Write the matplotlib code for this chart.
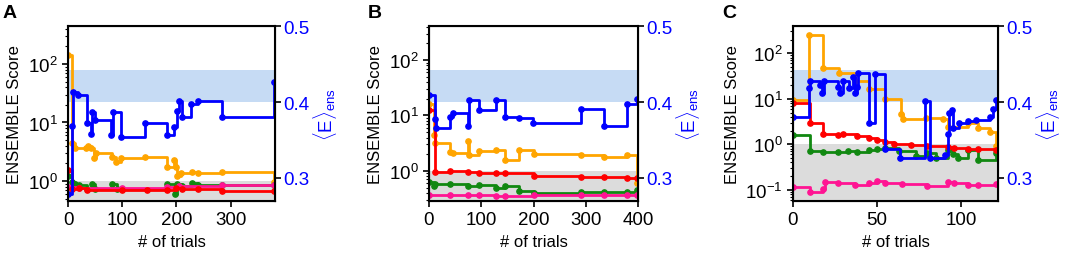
import matplotlib
matplotlib.use("Agg")
import matplotlib.pyplot as plt
import matplotlib.transforms as mtransforms
from matplotlib.patches import Rectangle
from matplotlib.ticker import LogLocator, NullFormatter

plt.rcParams['font.family'] = ['Liberation Sans', 'DejaVu Sans']
plt.rcParams['mathtext.fontset'] = 'custom'
plt.rcParams['mathtext.rm'] = 'Liberation Sans'
plt.rcParams['mathtext.it'] = 'Liberation Sans:italic'
plt.rcParams['font.size'] = 11.5

# ---- panel A ----
a_blue_x = [0, 7.4, 9.9, 18.5, 35.8, 42, 44.4, 49.4, 80.2, 82.7, 97.5, 143, 183, 196, 200.6, 205, 211, 226.5, 239, 285, 381]
a_blue_y = [0.279, 0.369, 0.413, 0.409, 0.373, 0.358, 0.387, 0.377, 0.356, 0.387, 0.354, 0.372, 0.356, 0.367, 0.388, 0.401, 0.380, 0.398, 0.401, 0.380, 0.426]
a_orange_x = [0, 7.4, 12, 33, 37, 43, 47.5, 51, 82, 88, 98, 143, 183, 196, 199, 202, 208, 228, 239, 285, 381]
a_orange_y = [140, 4.5, 3.6, 3.7, 4.0, 3.6, 2.5, 3.0, 2.6, 2.1, 2.5, 2.55, 1.75, 2.3, 1.75, 1.2, 1.35, 1.45, 1.38, 1.45, 0.95]
a_red_x = [0, 8, 20, 35, 100, 145, 183, 200, 210, 240, 285, 381]
a_red_y = [1.55, 0.72, 0.75, 0.70, 0.70, 0.70, 0.70, 0.75, 0.74, 0.72, 0.68, 0.68]
a_green_x = [0, 8, 12, 20, 35, 45, 50, 82, 90, 183, 198, 202, 210, 228, 239, 285, 381]
a_green_y = [1.2, 0.95, 0.88, 0.85, 0.72, 0.90, 0.72, 0.88, 0.72, 0.88, 0.60, 0.90, 0.82, 0.92, 0.85, 0.85, 0.85]
a_pink_x = [0, 20, 100, 183, 205, 285, 381]
a_pink_y = [0.78, 0.75, 0.76, 0.78, 0.82, 0.84, 0.84]

# ---- panel B ----
b_blue_x = [0, 12, 14, 41, 46, 74, 76, 95, 128, 145, 172, 200, 290, 335, 379, 398]
b_blue_y = [0.409, 0.378, 0.366, 0.381, 0.386, 0.368, 0.403, 0.389, 0.403, 0.381, 0.379, 0.373, 0.391, 0.368, 0.397, 0.404]
b_orange_x = [0, 10, 12, 41, 46, 74, 76, 95, 128, 145, 172, 200, 290, 335, 379, 398]
b_orange_y = [16, 4.5, 3.2, 2.2, 2.1, 3.4, 1.95, 2.3, 2.35, 1.6, 2.4, 2.0, 1.9, 1.8, 1.95, 0.6]
b_red_x = [0, 11, 41, 74, 95, 128, 145, 200, 290, 335, 379, 398]
b_red_y = [12.5, 0.97, 1.0, 0.96, 0.92, 0.9, 0.92, 0.8, 0.78, 0.78, 0.75, 0.75]
b_green_x = [0, 10, 12, 41, 74, 95, 128, 145, 172, 200, 290, 335, 379, 398]
b_green_y = [0.63, 0.53, 0.58, 0.58, 0.54, 0.55, 0.5, 0.53, 0.43, 0.4, 0.42, 0.41, 0.41, 0.46]
b_pink_x = [0, 41, 74, 95, 128, 145, 200, 290, 335, 379, 398]
b_pink_y = [0.36, 0.37, 0.37, 0.36, 0.35, 0.355, 0.36, 0.37, 0.37, 0.37, 0.37]

# ---- panel C ----
c_blue_x = [0, 9.7, 10.3, 16, 17.5, 18.5, 27, 28, 30, 33.5, 35.5, 37, 37.8, 38.5, 45.5, 48.8, 55, 63.5, 78.6, 81.5, 90.5, 92, 93, 94.5, 95.5, 99, 104, 109, 117, 119, 121]
c_blue_y = [0.380, 0.418, 0.428, 0.422, 0.412, 0.428, 0.420, 0.412, 0.428, 0.418, 0.433, 0.412, 0.420, 0.438, 0.372, 0.437, 0.338, 0.326, 0.402, 0.326, 0.33, 0.358, 0.385, 0.39, 0.366, 0.372, 0.375, 0.377, 0.381, 0.391, 0.403]
c_orange_x = [0, 9.5, 18, 27.5, 37, 45, 55, 64, 65.5, 79, 89.5, 92.5, 104, 110, 117, 121]
c_orange_y = [9.5, 250, 48, 36, 24, 16, 10, 4.6, 3.6, 3.8, 3.6, 2.4, 2.9, 2.3, 1.9, 0.9]
c_red_x = [0, 10, 18, 27, 30, 38, 45, 50, 55, 60, 70, 80, 92, 96, 104, 110, 121]
c_red_y = [8, 2.9, 1.7, 1.6, 1.7, 1.55, 1.4, 1.25, 1.1, 1.0, 0.95, 0.93, 0.87, 0.85, 0.8, 0.8, 0.75]
c_green_x = [0, 10, 18, 27, 33, 38, 45, 50, 55, 63, 73, 80, 85, 92, 95, 98, 104, 110, 121]
c_green_y = [1.6, 0.72, 0.68, 0.68, 0.72, 0.68, 0.75, 0.8, 0.82, 0.72, 0.55, 0.65, 0.5, 0.75, 0.6, 0.5, 0.75, 0.45, 0.65]
c_pink_x = [0, 10, 18, 19, 27, 37, 45, 50, 55, 65, 80, 92, 96, 104, 110, 121]
c_pink_y = [0.115, 0.09, 0.105, 0.15, 0.14, 0.13, 0.14, 0.155, 0.14, 0.135, 0.125, 0.15, 0.14, 0.13, 0.13, 0.135]

panel_labels = ['A', 'B', 'C']
x_limits = [(0, 382), (0, 400), (0, 122)]
x_ticks = [[0, 100, 200, 300], [0, 100, 200, 300, 400], [0, 50, 100]]
score_limits = [(0.46, 440), (0.29, 405), (0.058, 390)]
e_limits = (0.27, 0.5)
e_ticks = [0.3, 0.4, 0.5]
e_band = (0.40, 0.442)

ORANGE = '#FFA500'
RED = '#FF0000'
GREEN = '#118811'
PINK = '#FF1493'
BLUE = '#0000FF'

panels = [
    (a_orange_x, a_orange_y, a_red_x, a_red_y, a_green_x, a_green_y, a_pink_x, a_pink_y, a_blue_x, a_blue_y),
    (b_orange_x, b_orange_y, b_red_x, b_red_y, b_green_x, b_green_y, b_pink_x, b_pink_y, b_blue_x, b_blue_y),
    (c_orange_x, c_orange_y, c_red_x, c_red_y, c_green_x, c_green_y, c_pink_x, c_pink_y, c_blue_x, c_blue_y),
]
lefts = [68 / 1065, 429 / 1065, 793 / 1065]
widths = [207 / 1065, 209 / 1065, 205 / 1065]
letter_x = [3 / 1065, 368 / 1065, 722 / 1065]

fig = plt.figure(figsize=(10.65, 2.55), dpi=100)

for i, p in enumerate(panels):
    ox, oy, rx, ry, gx, gy, px, py, bx, by = p
    ax = fig.add_axes([lefts[i], 53.3 / 255, widths[i], 174.4 / 255])
    ax2 = ax.twinx()
    ax.set_yscale('log')
    ax.set_xlim(*x_limits[i])
    ax.set_ylim(*score_limits[i])
    ax2.set_ylim(*e_limits)

    # shaded bands
    ax.axhspan(1e-4, 1.0, color='#dcdcdc', zorder=0, lw=0)
    trans = mtransforms.blended_transform_factory(ax.transAxes, ax2.transData)
    ax.add_patch(Rectangle((0, e_band[0]), 1, e_band[1] - e_band[0], transform=trans,
                           color='#c6dbf4', zorder=0, lw=0))

    kw = dict(drawstyle='steps-post', marker='o', ms=3.8, lw=2.0)
    ax.plot(ox, oy, color=ORANGE, **kw)
    ax.plot(gx, gy, color=GREEN, **kw)
    ax.plot(px, py, color=PINK, **kw)
    ax.plot(rx, ry, color=RED, **kw)
    ax2.plot(bx, by, color=BLUE, **kw)

    ax.set_xticks(x_ticks[i])
    ax.yaxis.set_major_locator(LogLocator(base=10, numticks=10))
    ax.yaxis.set_minor_locator(LogLocator(base=10, subs=range(2, 10), numticks=20))
    ax.yaxis.set_minor_formatter(NullFormatter())
    ax.tick_params(which='major', direction='out', length=4, width=1.2, labelsize=13.5)
    ax.tick_params(which='minor', direction='out', length=2.5, width=0.8)
    ax2.set_yticks(e_ticks)
    ax2.set_yticklabels(['0.3', '0.4', '0.5'])
    ax2.tick_params(axis='y', direction='out', length=4, width=1.2, pad=2,
                    labelcolor=BLUE, labelsize=13.5)

    for s in ax2.spines.values():
        s.set_linewidth(1.5)

    ax.set_xlabel('# of trials', fontsize=12)
    ax.set_ylabel('ENSEMBLE Score', fontsize=12)
    ax2.set_ylabel(r'$\langle \mathrm{E}\rangle_{\mathrm{ens}}$', color=BLUE, fontsize=13.5,
                   labelpad=1)

    fig.text(letter_x[i], 1 - 5 / 255, panel_labels[i], fontsize=14, fontweight='bold',
             ha='left', va='top')

fig.savefig('out.png', dpi=100)
